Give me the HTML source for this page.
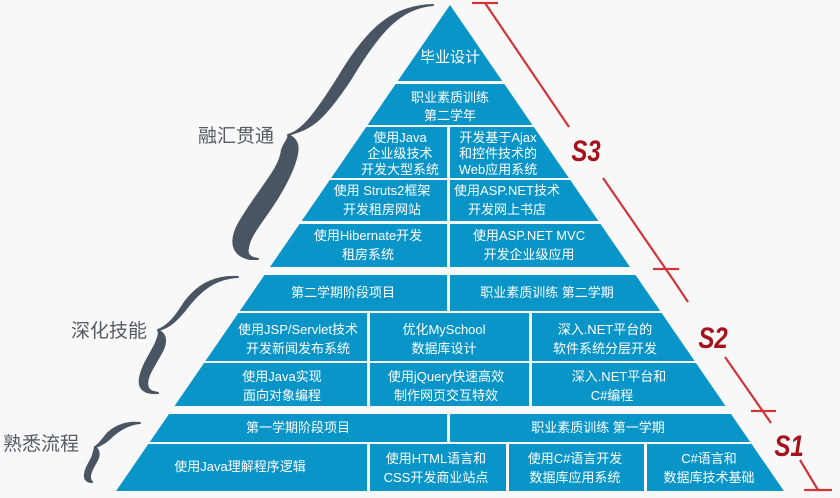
<!DOCTYPE html>
<html><head><meta charset="utf-8">
<style>
html,body{margin:0;padding:0;background:#f8f8f8;}
svg{display:block;}
.t{font-family:"Liberation Sans","Noto Sans CJK SC",sans-serif;fill:#fff;font-size:13px;text-anchor:middle;}
.l{font-family:"Liberation Sans","Noto Sans CJK SC",sans-serif;fill:#555c66;font-size:19px;}
.s{font-family:"Liberation Sans",sans-serif;fill:#a5121b;font-size:30px;font-weight:bold;font-style:italic;text-anchor:middle;}
</style></head><body>
<svg width="840" height="498" viewBox="0 0 840 498">
<defs><clipPath id="tri"><polygon points="450,5 116.1,491 783.9,491"/></clipPath></defs>
<g clip-path="url(#tri)" fill="#0a95c8">
<rect x="0" y="0" width="840" height="81"/>
<rect x="0" y="84" width="840" height="41"/>
<rect x="0" y="127" width="447" height="51"/><rect x="450" y="127" width="400" height="51"/>
<rect x="0" y="180" width="447" height="41"/><rect x="450" y="180" width="400" height="41"/>
<rect x="0" y="224" width="447" height="43"/><rect x="450" y="224" width="400" height="43"/>
<rect x="0" y="275" width="447" height="36"/><rect x="450" y="275" width="400" height="36"/>
<rect x="0" y="313" width="367" height="48"/><rect x="370" y="313" width="159" height="48"/><rect x="532" y="313" width="400" height="48"/>
<rect x="0" y="363" width="367" height="43"/><rect x="370" y="363" width="159" height="43"/><rect x="532" y="363" width="400" height="43"/>
<rect x="0" y="414" width="447" height="28"/><rect x="450" y="414" width="400" height="28"/>
<rect x="0" y="444" width="367" height="47"/><rect x="370" y="444" width="136" height="47"/><rect x="509" y="444" width="135" height="47"/><rect x="647" y="444" width="300" height="47"/>
</g>
<g fill="#4a5563" stroke="#4a5563" stroke-width="2" stroke-linejoin="round">
<path d="M433,5 C400,8 380,30 350,80 C320,125 310,128 288,135 C300,140 300,150 292,170 C275,210 250,230 248,248 C246,256 252,258 258,259 L250,259 C235,256 228,245 238,225 C258,190 280,170 282,150 C284,143 290,138 288,135 C300,132 312,120 340,75 C370,25 395,6 433,5 Z"/>
<path d="M238,277 C215,278 200,290 185,310 C175,322 168,328 158,330 C166,334 168,342 160,355 C150,372 145,380 148,388 C150,392 155,392 158,393 C146,394 138,390 140,378 C142,366 150,355 155,345 C158,338 160,333 158,330 C168,326 175,318 185,302 C200,282 218,276 238,277 Z"/>
<path d="M140,423 C128,424 118,430 108,440 C103,444 99,446 95,447 C99,450 100,455 96,462 C90,472 88,478 92,482 C88,482 84,480 85,474 C86,466 92,460 93,455 C94,451 95,449 95,447 C99,445 102,440 108,433 C118,424 130,422 140,423 Z"/>
</g>
<text class="l" x="198" y="142">融汇贯通</text>
<text class="l" x="71" y="337">深化技能</text>
<text class="l" x="3" y="450">熟悉流程</text>
<g stroke="#d1353c" stroke-width="2.2">
<line x1="472" y1="3" x2="498" y2="3"/>
<line x1="485" y1="3" x2="569" y2="127"/>
<line x1="603" y1="178" x2="674" y2="281"/>
<line x1="653" y1="269" x2="679" y2="269"/>
<line x1="674" y1="281" x2="688" y2="302"/>
<line x1="725" y1="357" x2="771" y2="423"/>
<line x1="751" y1="411" x2="776" y2="411"/>
<line x1="800" y1="460" x2="818" y2="490"/>
<line x1="804" y1="490" x2="832" y2="490"/>
</g>
<text class="s" transform="translate(586,161) scale(0.8,1)">S3</text>
<text class="s" transform="translate(713,348) scale(0.8,1)">S2</text>
<text class="s" transform="translate(789,456) scale(0.8,1)">S1</text>
<text class="t" x="450" y="62" style="font-size:15px">毕业设计</text>
<text class="t" x="450" y="102">职业素质训练</text>
<text class="t" x="450" y="120">第二学年</text>
<text class="t" x="400" y="142">使用Java</text>
<text class="t" x="400" y="158">企业级技术</text>
<text class="t" x="400" y="174">开发大型系统</text>
<text class="t" x="498" y="142">开发基于Ajax</text>
<text class="t" x="498" y="158">和控件技术的</text>
<text class="t" x="498" y="174">Web应用系统</text>
<text class="t" x="382" y="195">使用 Struts2框架</text>
<text class="t" x="382" y="214">开发租房网站</text>
<text class="t" x="507" y="195">使用ASP.NET技术</text>
<text class="t" x="507" y="214">开发网上书店</text>
<text class="t" x="368" y="240">使用Hibernate开发</text>
<text class="t" x="368" y="259">租房系统</text>
<text class="t" x="529" y="240">使用ASP.NET MVC</text>
<text class="t" x="529" y="259">开发企业级应用</text>
<text class="t" x="343" y="297">第二学期阶段项目</text>
<text class="t" x="547" y="297">职业素质训练 第二学期</text>
<text class="t" x="298" y="334">使用JSP/Servlet技术</text>
<text class="t" x="298" y="353">开发新闻发布系统</text>
<text class="t" x="444" y="334">优化MySchool</text>
<text class="t" x="444" y="353">数据库设计</text>
<text class="t" x="605" y="334">深入.NET平台的</text>
<text class="t" x="605" y="353">软件系统分层开发</text>
<text class="t" x="282" y="381">使用Java实现</text>
<text class="t" x="282" y="400">面向对象编程</text>
<text class="t" x="446" y="381">使用jQuery快速高效</text>
<text class="t" x="446" y="400">制作网页交互特效</text>
<text class="t" x="619" y="381">深入.NET平台和</text>
<text class="t" x="612" y="400">C#编程</text>
<text class="t" x="298" y="432">第一学期阶段项目</text>
<text class="t" x="598" y="432">职业素质训练 第一学期</text>
<text class="t" x="240" y="471">使用Java理解程序逻辑</text>
<text class="t" x="436" y="463">使用HTML语言和</text>
<text class="t" x="436" y="482">CSS开发商业站点</text>
<text class="t" x="575" y="463">使用C#语言开发</text>
<text class="t" x="575" y="482">数据库应用系统</text>
<text class="t" x="709" y="463">C#语言和</text>
<text class="t" x="709" y="482">数据库技术基础</text>
</svg>
</body></html>
